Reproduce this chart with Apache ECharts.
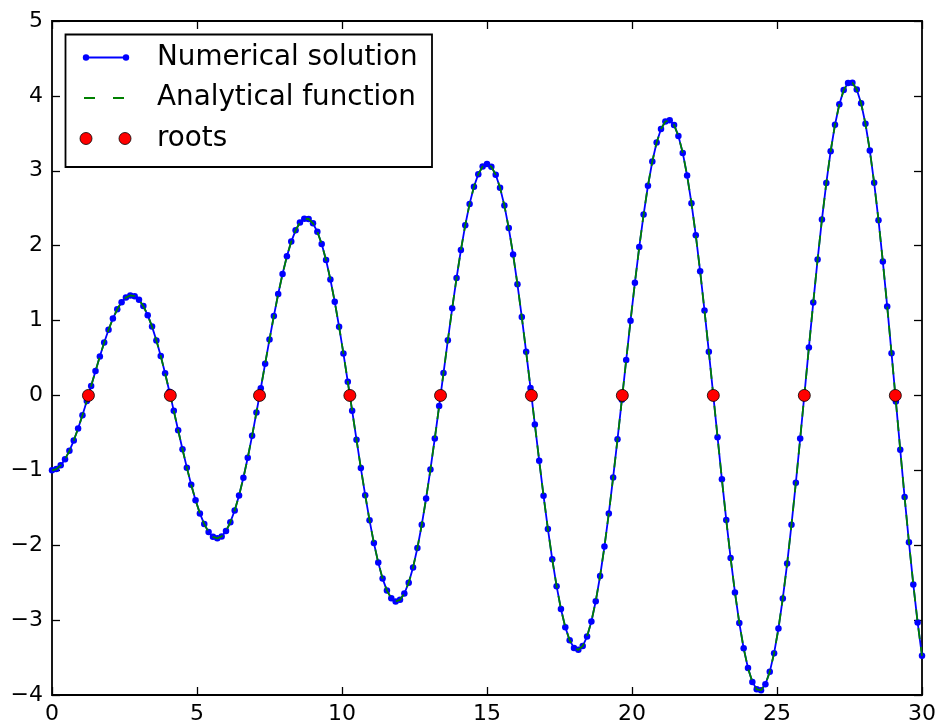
<!DOCTYPE html>
<html>
<head>
<meta charset="utf-8">
<script src="https://cdn.jsdelivr.net/npm/echarts@6/dist/echarts.min.js"></script>
<style>
html,body{margin:0;padding:0;background:#fff;}
#c{width:940px;height:727px;}
</style>
</head>
<body>
<div id="c"></div>
<script>
// ---- data ----
const xValues = [0,0.15,0.3,0.45,0.6,0.75,0.9,1.05,1.2,1.35,1.5,1.65,1.8,1.95,2.1,2.25,2.4,2.55,2.7,2.85,3,3.15,3.3,3.45,3.6,3.75,3.9,4.05,4.2,4.35,4.5,4.65,4.8,4.95,5.1,5.25,5.4,5.55,5.7,5.85,6,6.15,6.3,6.45,6.6,6.75,6.9,7.05,7.2,7.35,7.5,7.65,7.8,7.95,8.1,8.25,8.4,8.55,8.7,8.85,9,9.15,9.3,9.45,9.6,9.75,9.9,10.05,10.2,10.35,10.5,10.65,10.8,10.95,11.1,11.25,11.4,11.55,11.7,11.85,12,12.15,12.3,12.45,12.6,12.75,12.9,13.05,13.2,13.35,13.5,13.65,13.8,13.95,14.1,14.25,14.4,14.55,14.7,14.85,15,15.15,15.3,15.45,15.6,15.75,15.9,16.05,16.2,16.35,16.5,16.65,16.8,16.95,17.1,17.25,17.4,17.55,17.7,17.85,18,18.15,18.3,18.45,18.6,18.75,18.9,19.05,19.2,19.35,19.5,19.65,19.8,19.95,20.1,20.25,20.4,20.55,20.7,20.85,21,21.15,21.3,21.45,21.6,21.75,21.9,22.05,22.2,22.35,22.5,22.65,22.8,22.95,23.1,23.25,23.4,23.55,23.7,23.85,24,24.15,24.3,24.45,24.6,24.75,24.9,25.05,25.2,25.35,25.5,25.65,25.8,25.95,26.1,26.25,26.4,26.55,26.7,26.85,27,27.15,27.3,27.45,27.6,27.75,27.9,28.05,28.2,28.35,28.5,28.65,28.8,28.95,29.1,29.25,29.4,29.55,29.7,29.85,30];

const numericalY = [-1.000,-0.983,-0.933,-0.851,-0.740,-0.602,-0.442,-0.264,-0.073,0.125,0.325,0.521,0.707,0.877,1.027,1.151,1.246,1.308,1.335,1.325,1.277,1.193,1.072,0.919,0.735,0.526,0.296,0.050,-0.206,-0.464,-0.719,-0.964,-1.192,-1.398,-1.575,-1.718,-1.824,-1.888,-1.908,-1.882,-1.811,-1.694,-1.535,-1.335,-1.099,-0.832,-0.539,-0.227,0.096,0.424,0.748,1.061,1.355,1.623,1.858,2.054,2.205,2.308,2.359,2.356,2.298,2.186,2.022,1.808,1.548,1.250,0.917,0.559,0.182,-0.204,-0.591,-0.970,-1.332,-1.668,-1.971,-2.232,-2.446,-2.606,-2.708,-2.750,-2.729,-2.645,-2.500,-2.296,-2.037,-1.728,-1.376,-0.988,-0.574,-0.142,0.299,0.737,1.163,1.568,1.941,2.274,2.558,2.787,2.955,3.057,3.091,3.054,2.948,2.774,2.535,2.235,1.883,1.484,1.047,0.583,0.101,-0.387,-0.871,-1.340,-1.782,-2.188,-2.547,-2.852,-3.094,-3.269,-3.371,-3.397,-3.346,-3.219,-3.018,-2.747,-2.411,-2.018,-1.576,-1.095,-0.586,-0.059,0.473,0.998,1.505,1.981,2.416,2.800,3.123,3.377,3.557,3.658,3.676,3.612,3.465,3.239,2.938,2.568,2.138,1.657,1.134,0.583,0.015,-0.557,-1.120,-1.662,-2.170,-2.631,-3.037,-3.376,-3.641,-3.825,-3.924,-3.935,-3.857,-3.691,-3.441,-3.112,-2.710,-2.245,-1.726,-1.166,-0.575,0.032,0.641,1.240,1.814,2.350,2.836,3.261,3.615,3.889,4.077,4.173,4.176,4.085,3.901,3.628,3.272,2.839,2.341,1.787,1.189,0.562,-0.081,-0.726,-1.357,-1.961,-2.524,-3.033,-3.476];

const analyticalY = numericalY;

const rootsX = [1.256,4.080,7.156,10.271,13.398,16.531,19.667,22.804,25.942,29.081];
const rootsY = [0,0,0,0,0,0,0,0,0,0];

const xTicks = [0,5,10,15,20,25,30];
const yTicks = [-4,-3,-2,-1,0,1,2,3,4,5];

const legendLabels = ['Numerical solution','Analytical function','roots'];

// ---- chart ----
const FONT = 'DejaVu Sans';
const minusFmt = v => String(v).replace('-', '\u2212');
const tickStyle = {show:true, inside:true, length:8, lineStyle:{color:'#000', width:1.3}};
const noLine = {show:false, onZero:false};

const chart = echarts.init(document.getElementById('c'), null, {renderer:'canvas'});

const option = {
  animation: false,
  backgroundColor: '#ffffff',
  grid: {left:52, right:18, top:21, bottom:32, show:true, borderColor:'#000', borderWidth:1.8, backgroundColor:'transparent'},
  xAxis: [
    {type:'value', position:'bottom', min:xTicks[0], max:xTicks[xTicks.length-1], interval:xTicks[1]-xTicks[0],
     axisLine:noLine, axisTick:tickStyle, splitLine:{show:false},
     axisLabel:{color:'#000', fontFamily:FONT, fontSize:22, margin:8, formatter:minusFmt}},
    {type:'value', position:'top', min:xTicks[0], max:xTicks[xTicks.length-1], interval:xTicks[1]-xTicks[0],
     axisLine:noLine, axisTick:tickStyle, splitLine:{show:false}, axisLabel:{show:false}}
  ],
  yAxis: [
    {type:'value', position:'left', min:yTicks[0], max:yTicks[yTicks.length-1], interval:1,
     axisLine:noLine, axisTick:tickStyle, splitLine:{show:false},
     axisLabel:{color:'#000', fontFamily:FONT, fontSize:22, margin:9, formatter:minusFmt}},
    {type:'value', position:'right', min:yTicks[0], max:yTicks[yTicks.length-1], interval:1,
     axisLine:noLine, axisTick:tickStyle, splitLine:{show:false}, axisLabel:{show:false}}
  ],
  series: [
    {name:legendLabels[0], type:'line', xAxisIndex:0, yAxisIndex:0,
     data: xValues.map((x,i)=>[x, numericalY[i]]),
     symbol:'circle', symbolSize:6.5, showSymbol:true, showAllSymbol:true,
     lineStyle:{color:'#0000ff', width:1.8}, itemStyle:{color:'#0000ff'}, z:2, silent:true},
    {name:legendLabels[1], type:'line', xAxisIndex:0, yAxisIndex:0,
     data: xValues.map((x,i)=>[x, analyticalY[i]]),
     symbol:'none', lineStyle:{color:'#008000', width:1.8, type:[11,8]}, z:3, silent:true},
    {name:legendLabels[2], type:'scatter', xAxisIndex:0, yAxisIndex:0,
     data: rootsX.map((x,i)=>[x, rootsY[i]]),
     symbol:'circle', symbolSize:12,
     itemStyle:{color:'#ff0000', borderColor:'#000', borderWidth:0.8, opacity:1}, z:4, silent:true}
  ],
  graphic: [
    {type:'rect', shape:{x:65.5, y:34.5, width:366.5, height:132.5}, style:{fill:'#fff', stroke:'#000', lineWidth:1.8}, z:100},
    {type:'line', shape:{x1:86, y1:57.5, x2:126, y2:57.5}, style:{stroke:'#0000ff', lineWidth:1.8}, z:101},
    {type:'circle', shape:{cx:86, cy:57.5, r:3.2}, style:{fill:'#0000ff'}, z:102},
    {type:'circle', shape:{cx:126, cy:57.5, r:3.2}, style:{fill:'#0000ff'}, z:102},
    {type:'line', shape:{x1:84, y1:98, x2:124, y2:98}, style:{stroke:'#008000', lineWidth:1.8, lineDash:[11,18]}, z:101},
    {type:'circle', shape:{cx:86, cy:138.5, r:6}, style:{fill:'#ff0000', stroke:'#000', lineWidth:0.8}, z:102},
    {type:'circle', shape:{cx:125, cy:138.5, r:6}, style:{fill:'#ff0000', stroke:'#000', lineWidth:0.8}, z:102},
    {type:'text', x:157, y:57.5, style:{text:legendLabels[0], fontFamily:FONT, fontSize:27.8, fill:'#000', verticalAlign:'middle', align:'left'}, z:102},
    {type:'text', x:157, y:98, style:{text:legendLabels[1], fontFamily:FONT, fontSize:27.8, fill:'#000', verticalAlign:'middle', align:'left'}, z:102},
    {type:'text', x:157, y:138.5, style:{text:legendLabels[2], fontFamily:FONT, fontSize:27.8, fill:'#000', verticalAlign:'middle', align:'left'}, z:102}
  ]
};
chart.setOption(option);
</script>
</body>
</html>
